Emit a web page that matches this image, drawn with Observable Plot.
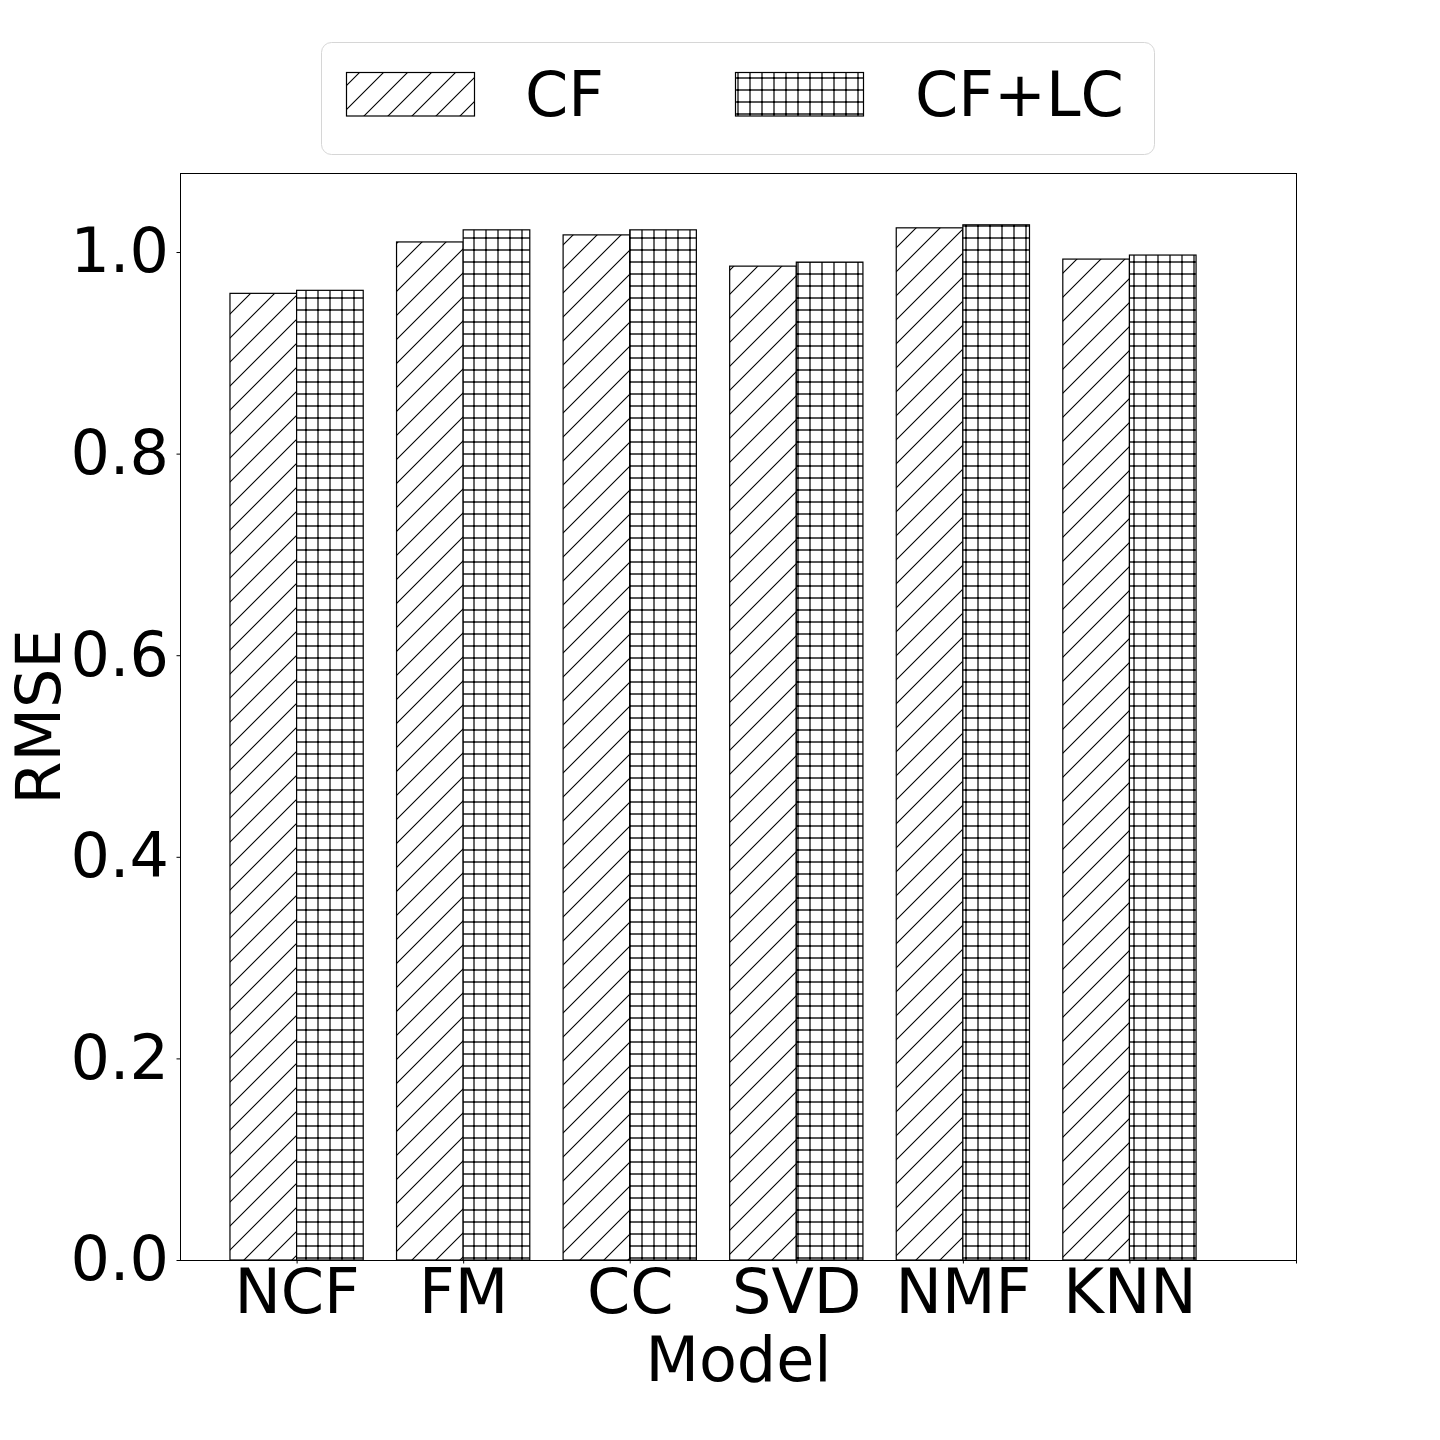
<!DOCTYPE html>
<html>
<head>
<meta charset="utf-8">
<script src="https://cdn.jsdelivr.net/npm/d3@7"></script>
<script src="https://cdn.jsdelivr.net/npm/@observablehq/plot@0.6"></script>
<style>
  html, body { margin: 0; padding: 0; background: #fff; }
  body { width: 1440px; font-family: "DejaVu Sans", sans-serif; }
  svg { display: block; }
</style>
</head>
<body>
<div id="legend"></div>
<div id="chart"></div>
<script>
// ---- data ----
const models = ["NCF", "FM", "CC", "SVD", "NMF", "KNN"];
const seriesNames = ["CF", "CF+LC"];
const cfValues = [0.959, 1.010, 1.017, 0.986, 1.024, 0.993];
const cflcValues = [0.962, 1.022, 1.022, 0.990, 1.027, 0.997];
const yTicks = [0, 0.2, 0.4, 0.6, 0.8, 1.0];
const xLabel = "Model";
const yLabel = "RMSE";

const FS = 62;
const patternIds = ["hatchDiag", "hatchGrid"];

function addPatterns(svgSel, prefix) {
  const defs = svgSel.insert("defs", ":first-child");
  const p1 = defs.append("pattern")
    .attr("id", prefix + patternIds[0])
    .attr("patternUnits", "userSpaceOnUse")
    .attr("width", 24).attr("height", 24);
  p1.append("rect").attr("width", 24).attr("height", 24).attr("fill", "white");
  p1.append("path")
    .attr("d", "M-6,6L6,-6M0,24L24,0M18,30L30,18")
    .attr("stroke", "black").attr("stroke-width", 1.1).attr("fill", "none");
  const p2 = defs.append("pattern")
    .attr("id", prefix + patternIds[1])
    .attr("patternUnits", "userSpaceOnUse")
    .attr("width", 12).attr("height", 12);
  p2.append("rect").attr("width", 12).attr("height", 12).attr("fill", "white");
  p2.append("path")
    .attr("d", "M0,6H12M6,0V12")
    .attr("stroke", "#555").attr("stroke-width", 1.8).attr("fill", "none");
  p2.append("rect").attr("x", 5).attr("y", 5).attr("width", 2).attr("height", 2).attr("fill", "black");
}

// ---- legend (SVG above the chart) ----
{
  const lg = d3.select("#legend").append("svg")
    .attr("width", 1440).attr("height", 160)
    .attr("font-family", "DejaVu Sans");
  addPatterns(lg, "lg-");
  lg.append("rect")
    .attr("x", 321.5).attr("y", 42.5).attr("width", 833).attr("height", 112)
    .attr("rx", 10).attr("ry", 10)
    .attr("fill", "white").attr("stroke", "#d6d6d6").attr("stroke-width", 1);
  const swatchX = [346.5, 735.5];
  const textX = [525, 915];
  seriesNames.forEach((name, i) => {
    lg.append("rect")
      .attr("x", swatchX[i]).attr("y", 72.5).attr("width", 128).attr("height", 43.5)
      .attr("fill", `url(#lg-${patternIds[i]})`)
      .attr("stroke", "black").attr("stroke-width", 1.2);
    lg.append("text")
      .attr("x", textX[i]).attr("y", 116)
      .attr("font-size", FS).attr("fill", "black")
      .text(name);
  });
}

// ---- chart ----
const rows = models.flatMap((m, i) => [
  {model: m, idx: i, series: seriesNames[0], value: cfValues[i]},
  {model: m, idx: i, series: seriesNames[1], value: cflcValues[i]}
]);
const barWidth = 0.4;
const tickPositions = models.map((_, i) => i).concat([models.length]);

const chart = Plot.plot({
  width: 1440,
  height: 1280,
  marginTop: 13,
  marginBottom: 180,
  marginLeft: 180,
  marginRight: 144,
  style: {fontFamily: "DejaVu Sans", fontSize: FS + "px", color: "black", background: "white", overflow: "visible"},
  x: {type: "linear", domain: [-0.7, 6]},
  y: {domain: [0, 1.0784]},
  color: {domain: seriesNames, range: patternIds.map(id => `url(#ch-${id})`)},
  marks: [
    Plot.rectY(rows, {
      x1: d => d.series === seriesNames[0] ? d.idx - barWidth : d.idx,
      x2: d => d.series === seriesNames[0] ? d.idx : d.idx + barWidth,
      y1: 0,
      y2: "value",
      fill: "series",
      stroke: "black",
      strokeWidth: 1.2
    }),
    Plot.frame({stroke: "black", strokeWidth: 1}),
    Plot.axisY({
      ticks: yTicks,
      tickFormat: d3.format(".1f"),
      tickSize: 3.5,
      tickPadding: 8,
      fontSize: FS,
      label: null
    }),
    Plot.axisX({
      ticks: tickPositions,
      tickFormat: i => models[i] ?? "",
      tickSize: 3.5,
      tickPadding: 5,
      fontSize: FS,
      label: null
    }),
    Plot.text([xLabel], {text: d => d, frameAnchor: "bottom", dy: 101, fontSize: FS, lineAnchor: "middle", textAnchor: "middle", fill: "black"}),
    Plot.text([yLabel], {text: d => d, frameAnchor: "left", dx: -140, rotate: -90, fontSize: FS, lineAnchor: "middle", textAnchor: "middle", fill: "black"})
  ]
});
addPatterns(d3.select(chart), "ch-");
document.getElementById("chart").appendChild(chart);
</script>
</body>
</html>
